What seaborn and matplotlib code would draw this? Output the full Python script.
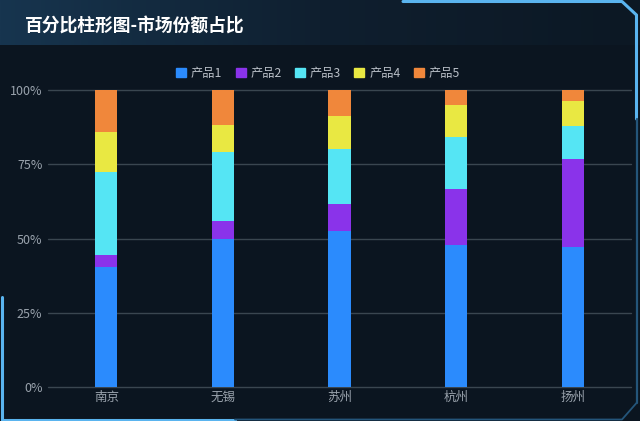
import numpy as np
import pandas as pd
import matplotlib
matplotlib.use("Agg")
import matplotlib.pyplot as plt
import seaborn as sns
from matplotlib.lines import Line2D
from matplotlib.colors import LinearSegmentedColormap

cities = ["南京", "无锡", "苏州", "杭州", "扬州"]
series_names = ["产品1", "产品2", "产品3", "产品4", "产品5"]
p1 = [40.3, 49.9, 52.5, 47.8, 47.0]
p2 = [4.1, 6.0, 9.2, 19.0, 29.7]
p3 = [28.1, 23.1, 18.3, 17.3, 11.2]
p4 = [13.5, 9.2, 11.2, 10.8, 8.5]
p5 = [14.0, 11.8, 8.8, 5.1, 3.6]
yticks = [0, 25, 50, 75, 100]
ytick_labels = ["0%", "25%", "50%", "75%", "100%"]
colors = ["#2b8bfd", "#8a33ea", "#55e5f4", "#e9e842", "#f0873b"]
title = "百分比柱形图-市场份额占比"

sns.set_theme(style="dark")
plt.rcParams["font.family"] = ["Noto Sans CJK SC", "DejaVu Sans"]

bg = "#0b1520"
fig = plt.figure(figsize=(6.4, 4.21), dpi=100, facecolor=bg)

# title bar gradient
tax = fig.add_axes([0, 1 - 45 / 421, 1, 45 / 421])
grad = np.linspace(0, 1, 256).reshape(1, -1)
cmap = LinearSegmentedColormap.from_list("tb", ["#17354f", "#0f1f2f", "#0c1824"])
tax.imshow(grad, aspect="auto", cmap=cmap, extent=[0, 1, 0, 1])
tax.set_axis_off()
fig.text(25 / 640, 1 - 27 / 421, title, color="white", fontsize=12.8,
         fontweight="bold", va="center", ha="left")

ax = fig.add_axes([48 / 640, 34 / 421, 583 / 640, 297 / 421])
ax.set_facecolor(bg)

data = np.array([p1, p2, p3, p4, p5])
cum = np.cumsum(data, axis=0)
for i in range(len(series_names) - 1, -1, -1):
    df = pd.DataFrame({"city": cities, "val": cum[i]})
    sns.barplot(data=df, x="city", y="val", color=colors[i], width=0.19,
                saturation=1, ax=ax, linewidth=0, order=cities, zorder=3)

ax.set_ylim(0, 100)
ax.set_xlim(-0.5, 4.5)
ax.set_yticks(yticks)
ax.set_yticklabels(ytick_labels)
ax.set_xlabel("")
ax.set_ylabel("")
ax.grid(False)
for yv in yticks:
    ax.axhline(yv, color="#3a4650", linewidth=1, clip_on=False, zorder=1)
for s in ax.spines.values():
    s.set_visible(False)
ax.tick_params(axis="both", colors="#9aa3ad", labelsize=9, length=0)
ax.tick_params(axis="y", pad=4)
ax.tick_params(axis="x", pad=3)

# legend
handles = [plt.Rectangle((0, 0), 1, 1, color=c) for c in colors]
leg = fig.legend(handles, series_names, loc="center", bbox_to_anchor=(318 / 640, 1 - 73 / 421),
                 ncol=5, frameon=False, fontsize=8.8, handlelength=0.8, handleheight=0.8,
                 handletextpad=0.4, columnspacing=1.1)
for t in leg.get_texts():
    t.set_color("#b8bec6")

# frame decorations
W, H = 640, 421
def fl(xs, ys, c="#5ab4ef", lw=2.2):
    fig.add_artist(Line2D([x / W for x in xs], [1 - y / H for y in ys], color=c, lw=lw,
                          transform=fig.transFigure))
fl([403, 622, 636.5, 636.5], [1.5, 1.5, 15, 119])
fl([2, 2, 235], [297, 419.5, 419.5])
fl([235, 622, 636.5], [419.5, 419.5, 403], c="#24557a", lw=1.3)
fl([636.5, 636.5], [119, 403], c="#24557a", lw=1.6)

fig.savefig("out.png", dpi=100, facecolor=bg)
